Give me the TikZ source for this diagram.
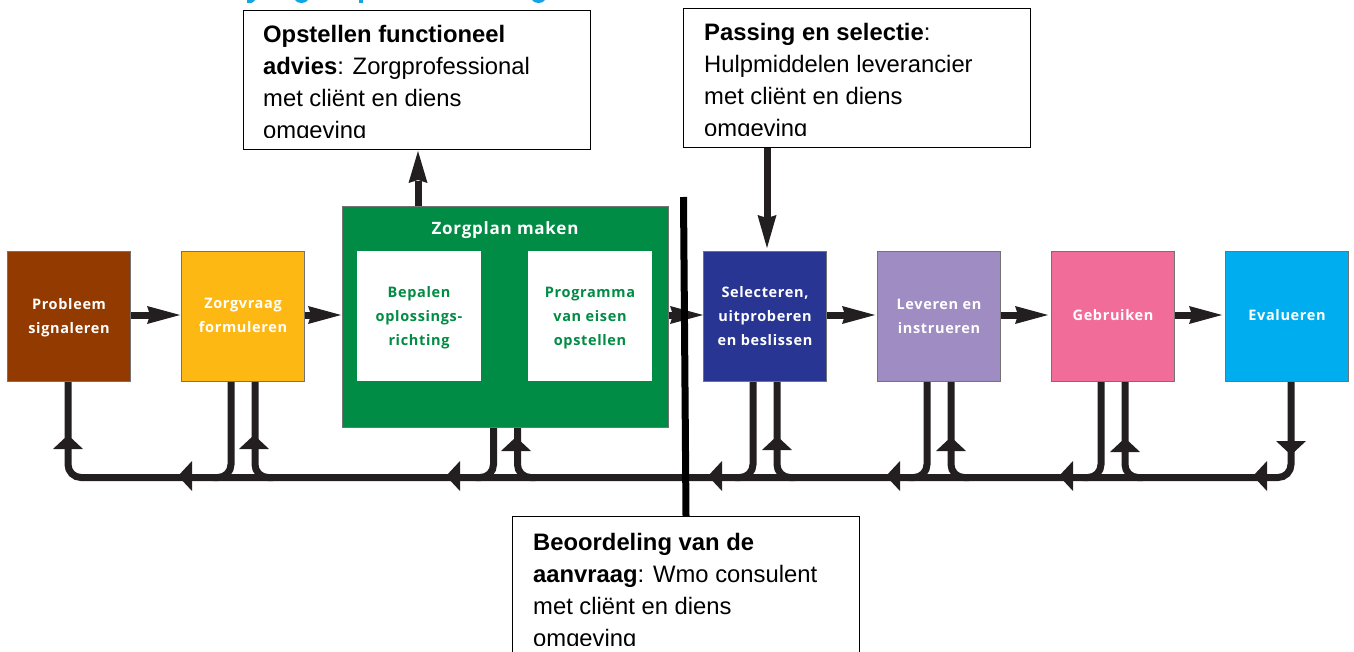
\documentclass[tikz,border=0pt]{standalone}
\usepackage{fontspec}
\setmainfont{Liberation Sans}
\newfontfamily\stagefont[LetterSpace=4.5]{Open Sans}
\usetikzlibrary{calc}
\definecolor{ink}{HTML}{231F20}
\definecolor{cbrown}{HTML}{933A00}
\definecolor{cyellow}{HTML}{FDB813}
\definecolor{cgreen}{HTML}{008C44}
\definecolor{cnavy}{HTML}{283593}
\definecolor{cpurple}{HTML}{9E8CC2}
\definecolor{cpink}{HTML}{F26C9A}
\definecolor{ccyan}{HTML}{00AEEF}
\definecolor{ctop}{HTML}{12A5E5}
\tikzset{
  x=1pt,y=-1pt,
  stage/.style={draw=black!55,line width=1pt,minimum width=123pt,minimum height=130pt,inner sep=0pt,anchor=north west},
  stagetext/.style={text=white,font=\stagefont\bfseries\fontsize{14.5}{24}\selectfont,align=center,inner sep=0pt},
  innerbox/.style={fill=white,minimum width=124pt,minimum height=130pt,inner sep=0pt,anchor=north west},
  innertext/.style={text=cgreen,font=\stagefont\bfseries\fontsize{14.5}{24}\selectfont,align=center,inner sep=0pt},
  notebox/.style={draw=black,line width=1pt,fill=white,minimum width=347pt,inner sep=0pt,anchor=north west},
  notetext/.style={font=\fontsize{23.8}{32}\selectfont,align=left,inner sep=0pt,anchor=north west,text=black},
  wire/.style={draw=ink,line width=7pt},
  curve/.style={wire,rounded corners=13pt},
  tipleft/.pic={\fill[ink] (0,0) -- (14,-15) -- (14,15) -- cycle;},
  tipup/.pic={\fill[ink] (0,0) -- (-15,14) -- (15,14) -- cycle;},
  tipdown/.pic={\fill[ink] (0,0) -- (-15,-14) -- (15,-14) -- cycle;},
  tipright/.pic={\fill[ink] (0,0) -- (-33,-9) -- (-30,0) -- (-33,9) -- cycle;},
  tipu/.pic={\fill[ink] (0,0) -- (-9.5,32) -- (0,29) -- (9.5,32) -- cycle;},
  tipd/.pic={\fill[ink] (0,0) -- (-9.5,-33) -- (0,-30) -- (9.5,-33) -- cycle;},
}
\begin{document}
\begin{tikzpicture}
\useasboundingbox (0,0) rectangle (1354,652);
% remnants of the cropped heading
\fill[ctop] (247,0) -- (255,0) .. controls (253,3) and (250,4) .. (247,3) -- cycle;
\fill[ctop] (295,0) -- (308,0) .. controls (306,4) and (297,4) .. (295,0) -- cycle;
\fill[ctop] (358.5,0) rectangle (362.5,3.5);
\fill[ctop] (532,0) -- (545,0) .. controls (543,4) and (534,4) .. (532,0) -- cycle;

% stages
\node[stage,fill=cbrown] (prob) at (7,251) {};
\node[stage,fill=cyellow] (zorg) at (181,251) {};
\node[stage,fill=cgreen,minimum width=326pt,minimum height=221pt] (plan) at (342,206) {};
\node[stage,fill=cnavy] (sel) at (703,251) {};
\node[stage,fill=cpurple] (lev) at (877,251) {};
\node[stage,fill=cpink] (geb) at (1051,251) {};
\node[stage,fill=ccyan] (eval) at (1225,251) {};
\node[innerbox] (bep) at (357,251) {};
\node[innerbox] (prog) at (528,251) {};

\node[stagetext] at (69,318) {Probleem\\signaleren};
\node[stagetext] at (243,315) {Zorgvraag\\formuleren};
\node[stagetext,font=\stagefont\bfseries\fontsize{17}{24}\selectfont] at (505,230) {Zorgplan maken};
\node[innertext] at (419,318) {Bepalen\\oplossings-\\richting};
\node[innertext] at (590,318) {Programma\\van eisen\\opstellen};
\node[stagetext] at (765,316) {Selecteren,\\uitproberen\\en beslissen};
\node[stagetext] at (939,316) {Leveren en\\instrueren};
\node[stagetext] at (1113,315) {Gebruiken};
\node[stagetext] at (1287,315) {Evalueren};

% note boxes
\node[notebox,minimum height=139pt] (nfunc) at (243,10) {};
\node[notebox,minimum height=139pt] (npass) at (683,8) {};
\node[notebox,minimum height=140pt] (nbeo) at (512,516) {};
\begin{scope}
  \clip (244,11) rectangle (589,138);
  \node[notetext] (tfunc) at (263,25) {\textbf{Opstellen functioneel}\\\textbf{advies}: Zorgprofessional\\met cliënt en diens\\omgeving};
\end{scope}
\begin{scope}
  \clip (684,9) rectangle (1029,136);
  \node[notetext] (tpass) at (704,23) {\textbf{Passing en selectie}:\\Hulpmiddelen leverancier\\met cliënt en diens\\omgeving};
\end{scope}
\begin{scope}
  \clip (513,517) rectangle (858,645.5);
  \node[notetext] (tbeo) at (533,533) {\textbf{Beoordeling van de}\\\textbf{aanvraag}: Wmo consulent\\met cliënt en diens\\omgeving};
\end{scope}

% flow arrows
\coordinate (t1) at (180,315);
\coordinate (t2) at (341,315);
\coordinate (t3) at (703,315);
\coordinate (t4) at (875,315);
\coordinate (t5) at (1048,315);
\coordinate (t6) at (1222,315);
\draw[wire] (prob.east |- t1) -- ($(t1)+(-25,0)$);
\draw[wire] (zorg.east |- t2) -- ($(t2)+(-25,0)$);
\draw[wire] (plan.east |- t3) -- ($(t3)+(-25,0)$);
\draw[wire] (sel.east |- t4) -- ($(t4)+(-25,0)$);
\draw[wire] (lev.east |- t5) -- ($(t5)+(-25,0)$);
\draw[wire] (geb.east |- t6) -- ($(t6)+(-25,0)$);
\foreach \c in {t1,t2,t3,t4,t5,t6} \pic at (\c) {tipright};

% arrows to the note boxes
\coordinate (upsrc) at (418,206);
\coordinate (uptip) at (418,151);
\draw[wire] (upsrc) -- ($(uptip)+(0,30)$);
\pic at (uptip) {tipu};
\coordinate (dnsrc) at (767,148);
\coordinate (dntip) at (767,248);
\draw[wire] (dnsrc) -- ($(dntip)+(0,-30)$);
\pic at (dntip) {tipd};

% bus
\coordinate (busw) at (68,477.5);
\coordinate (buse) at (1291,477.5);
\draw[curve] (prob.south -| busw) |- (buse) -- (buse |- eval.south);
\foreach \n in {zorg,plan,sel,lev,geb}{
  \draw[curve] ($(\n.south)+(-12,0)$) |- ($(\n.south |- busw)+(-30,0)$);
  \draw[curve] ($(\n.south)+(12,0)$) |- ($(\n.south |- busw)+(30,0)$);
}
% bus arrowheads
\foreach \x in {178,446,708,886,1059,1253} \pic at (\x,476) {tipleft};
\foreach \x/\y in {68/435,254/435,516/437,777/436,951/437,1125/438} \pic at (\x,\y) {tipup};
\pic at (1291,455) {tipdown};

% divider
\coordinate (bartop) at (683.5,197);
\coordinate (barbot) at (686,516);
\draw[draw=black,line width=7pt] (bartop) -- (barbot);
\end{tikzpicture}
\end{document}
